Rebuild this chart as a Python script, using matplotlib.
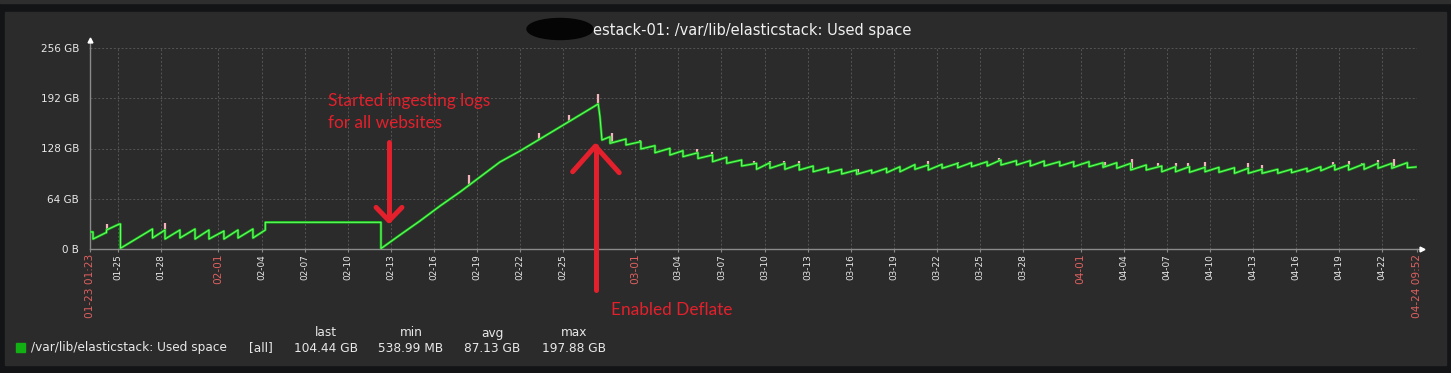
import matplotlib
matplotlib.use("Agg")
import matplotlib.pyplot as plt
import matplotlib.dates as mdates
from matplotlib.patches import Rectangle, Ellipse
import numpy as np
import pandas as pd


W, H = 1451, 373
START = pd.Timestamp("2024-01-23 01:23")
END = pd.Timestamp("2024-04-24 09:52")

# Used space. Each step: day offset from START,
# value just before it and value just after it (GB). Daily drops are
# the retention cleanup, the big one on 02-27 is deflate being enabled.
step_day = [
    0.00, 0.21, 1.11, 1.15, 2.04, 2.12, 4.35, 5.22, 6.26, 7.31, 8.28, 9.32,
    10.30, 11.34, 12.20, 20.25,
    21.57, 22.96, 24.36, 25.75, 27.14, 28.53, 29.92, 31.32, 32.71, 34.10,
    35.37, 35.49, 35.63,
    36.19, 37.30, 38.34, 39.32, 40.36, 41.27, 42.31, 43.33, 44.31, 45.35,
    46.39, 47.32, 48.36, 49.36, 50.33, 51.38, 52.31, 53.35, 54.40, 55.44,
    56.37, 57.41, 58.34, 59.30, 60.39, 61.35, 62.44, 63.40, 64.48, 65.44,
    66.41, 67.49, 68.46, 69.53, 70.50, 71.46, 72.43, 73.51, 74.59, 75.55,
    76.52, 77.60, 78.57, 79.65, 80.61, 81.57, 82.66, 83.62, 84.70, 85.66,
    86.63, 87.59, 88.67, 89.64, 90.60, 91.68, 92.28,
]
step_from = [
    21.7, 21.7, 20.8, 20.8, 31.8, 31.8, 25.5, 24.2, 24.2, 25.5, 24.2, 22.9,
    24.2, 25.5, 24.2, 34.0,
    17.8, 35.7, 54.8, 72.6, 91.7, 110.8, 124.8, 140.1, 155.4, 170.7,
    184.7, 168.5, 138.8,
    143.0, 140.1, 136.7, 131.6, 128.2, 125.2, 122.6, 119.7, 116.8, 113.4,
    109.1, 109.9, 109.1, 107.9, 105.7, 103.5, 101.5, 100.6, 100.6, 102.8,
    104.8, 107.5, 107.0, 107.9, 109.1, 109.9, 111.2, 113.4, 112.5, 112.5,
    112.1, 111.2, 111.2, 111.2, 109.9, 109.9, 109.1, 107.0, 105.7, 104.8,
    104.8, 104.0, 104.0, 103.5, 102.8, 101.5, 101.5, 101.5, 102.8, 104.8,
    107.0, 107.0, 108.3, 109.1, 109.1, 109.9, 104.44,
]
step_to = [
    21.7, 12.7, 20.8, 24.2, 31.8, 0.9, 14.0, 12.7, 14.0, 12.7, 12.7, 12.7,
    14.0, 14.0, 34.0, 0.53,
    17.8, 35.7, 54.8, 72.6, 91.7, 110.8, 124.8, 140.1, 155.4, 170.7,
    184.7, 168.5, 138.8,
    134.6, 132.5, 127.4, 122.6, 119.7, 117.6, 115.3, 111.2, 109.1, 105.7,
    101.5, 102.8, 101.5, 100.6, 98.4, 97.2, 95.5, 95.1, 96.4, 97.2,
    98.4, 101.5, 100.6, 102.8, 103.5, 104.8, 105.7, 107.0, 107.0, 105.7,
    105.7, 105.7, 104.8, 104.8, 104.0, 102.8, 100.6, 100.6, 98.4, 98.4,
    97.7, 98.4, 97.7, 96.4, 96.4, 96.4, 96.4, 97.2, 98.4, 99.7,
    100.6, 100.6, 101.5, 102.8, 102.8, 103.5, 104.44,
]

# max values that poke above the average line (pink spikes)
spike_day = [
    1.18, 5.22, 26.37, 31.25, 33.33, 35.37, 36.30, 38.27, 42.26, 43.26,
    46.21, 47.32, 48.30, 49.32, 53.47, 58.34, 60.39, 61.23, 63.28, 65.44,
    68.46, 70.62, 72.55, 74.35, 75.55, 76.40, 77.60, 80.61, 81.57, 86.50,
    87.59, 88.55, 89.64, 90.72,
]
spike_max = [
    31.8, 33.1, 94.2, 147.7, 170.7, 197.9, 147.4, 138.8, 127.4, 123.9,
    112.1, 112.1, 112.1, 112.5, 101.9, 112.5, 111.2, 111.2, 116.3, 113.4,
    112.5, 111.2, 114.6, 109.1, 109.9, 109.9, 111.2, 109.9, 107.0, 111.2,
    112.5, 109.9, 113.4, 114.6,
]

tick_labels = [
    "01-25", "01-28", "02-01", "02-04", "02-07", "02-10", "02-13", "02-16",
    "02-19", "02-22", "02-25", "03-01", "03-04", "03-07", "03-10", "03-13",
    "03-16", "03-19", "03-22", "03-25", "03-28", "04-01", "04-04", "04-07",
    "04-10", "04-13", "04-16", "04-19", "04-22",
]
y_ticks = [0, 64, 128, 192, 256]
y_labels = ["0 B", "64 GB", "128 GB", "192 GB", "256 GB"]

legend_name = "/var/lib/elasticstack: Used space"
legend_stats = [("last", "104.44 GB"), ("min", "538.99 MB"),
                ("avg", "87.13 GB"), ("max", "197.88 GB")]

BG = "#2b2b2b"
RED = "#e3202b"
TICK_RED = "#e06060"
TXT = "#e8e8e8"

fig = plt.figure(figsize=(W / 100, H / 100), dpi=100, facecolor="#131416")
fig.patches.append(Rectangle((5 / W, 1 - 365 / H), 1441 / W, 353 / H,
                             transform=fig.transFigure, color=BG, zorder=-10))
fig.patches.append(Rectangle((0, 1 - 3 / H), 1, 3 / H,
                             transform=fig.transFigure, color="#2e2e2e", zorder=-10))

ax = fig.add_axes([90 / W, 1 - 249 / H, 1327 / W, 201 / H])
ax.set_zorder(1)
ax.patch.set_alpha(0)

t0 = mdates.date2num(START.to_pydatetime())
t1 = mdates.date2num(END.to_pydatetime())

# build the polyline: before/after value at each step
xs, ys = [], []
for d, a, b in zip(step_day, step_from, step_to):
    xs += [t0 + d, t0 + d]
    ys += [a, b]
xs = np.array(xs)
ys = np.array(ys)

# pink max spikes
for d, m in zip(spike_day, spike_max):
    base = np.interp(t0 + d - 0.03, xs, ys)
    if m > base:
        ax.plot([t0 + d, t0 + d], [base, m], color="#f3b3bb", lw=1.6,
                solid_capstyle="butt", zorder=3)

ax.plot(xs, ys, color="#16b816", lw=1.8, zorder=4)
ax.plot(xs, ys, color="#6cff6c", lw=0.7, zorder=5)

ax.set_xlim(t0, t1)
ax.set_ylim(0, 256)

tick_pos = [mdates.date2num(pd.Timestamp("2024-" + s).to_pydatetime()) for s in tick_labels]
all_pos = [t0] + tick_pos + [t1]
all_lab = [START.strftime("%m-%d %H:%M")] + tick_labels + [END.strftime("%m-%d %H:%M")]
ax.set_xticks(all_pos)
ax.set_xticklabels(all_lab, rotation=90, va="top", ha="center")
for lab in ax.get_xticklabels():
    txt = lab.get_text()
    if len(txt) > 5 or txt.endswith("-01"):
        lab.set_color(TICK_RED)
        lab.set_fontsize(7.6)
    else:
        lab.set_color(TXT)
        lab.set_fontsize(6.4)

ax.set_yticks(y_ticks)
ax.set_yticklabels(y_labels, fontsize=7.5, color=TXT)
ax.tick_params(axis="x", length=2, pad=1.5, color="#888888")
ax.tick_params(axis="y", length=0, pad=8)

ax.grid(True, color="#555555", linestyle=(0, (2, 2)), linewidth=0.7)
for side in ["top", "right"]:
    ax.spines[side].set_visible(False)
for side in ["left", "bottom"]:
    ax.spines[side].set_color("#8a8a8a")
    ax.spines[side].set_linewidth(1)

# axis arrows
ax.plot([0, 0], [1, 1.04], transform=ax.transAxes, color="#8a8a8a", lw=1, clip_on=False)
ax.plot([0], [1.04], marker="^", ms=3.5, color="white", transform=ax.transAxes, clip_on=False)
ax.plot([1, 1.004], [0, 0], transform=ax.transAxes, color="#8a8a8a", lw=1, clip_on=False)
ax.plot([1.004], [0], marker=">", ms=3.5, color="white", transform=ax.transAxes, clip_on=False)

# title with the redacted host name
fig.text(593 / W, 1 - 31 / H, "estack-01: /var/lib/elasticstack: Used space",
         fontsize=10.5, color="#f0f0f0", ha="left", va="center")
fig.patches.append(Ellipse((560 / W, 1 - 29 / H), 66 / W, 21 / H,
                           transform=fig.transFigure, color="#050505", zorder=5))

# annotations drawn over the screenshot
ann_font = dict(family="Lato", fontsize=12.4, color=RED)
ax.text(t0 + 16.56, 182, "Started ingesting logs", va="baseline", clip_on=False, **ann_font)
ax.text(t0 + 16.56, 154, "for all websites", va="baseline", clip_on=False, **ann_font)
ax.text(t0 + 36.26, -84, "Enabled Deflate", va="baseline", clip_on=False, **ann_font)

arrow_kw = dict(color=RED, lw=3.6, solid_capstyle="round", solid_joinstyle="round",
                clip_on=False, zorder=6)
ax.plot([t0 + 20.81, t0 + 20.81], [136.5, 37.0], **arrow_kw)
ax.plot([t0 + 19.91, t0 + 20.81, t0 + 21.71], [53.0, 36.0, 53.0], **arrow_kw)
ax.plot([t0 + 35.21, t0 + 35.21], [-52.0, 131.0], **arrow_kw)
ax.plot([t0 + 33.59, t0 + 35.17, t0 + 36.83], [98.4, 131.0, 97.2], **arrow_kw)

# legend row
fig.patches.append(Rectangle((16 / W, 1 - 352 / H), 9 / W, 9 / H,
                             transform=fig.transFigure, color="#12b012", zorder=5))
fs = 8.7
fig.text(31 / W, 1 - 348 / H, legend_name, fontsize=fs, color=TXT, va="center")
fig.text(261 / W, 1 - 348 / H, "[all]", fontsize=fs, color=TXT, va="center", ha="center")
for cx, (head, val) in zip([326, 411, 492, 574], legend_stats):
    fig.text(cx / W, 1 - 333 / H, head, fontsize=fs, color=TXT, va="center", ha="center")
    fig.text(cx / W, 1 - 348 / H, val, fontsize=fs, color=TXT, va="center", ha="center")

fig.savefig("out.png", dpi=100, facecolor=fig.get_facecolor())
